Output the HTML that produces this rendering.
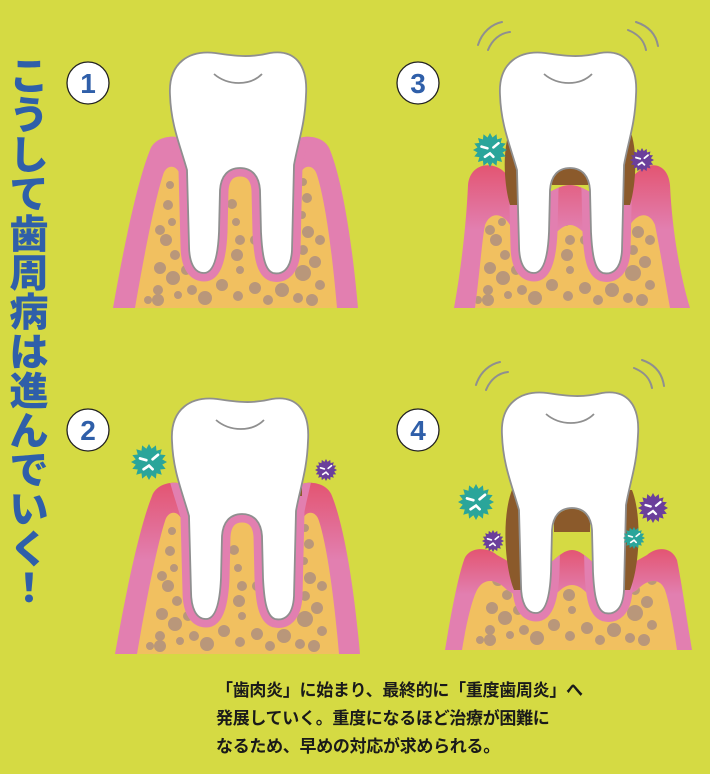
<!DOCTYPE html>
<html><head><meta charset="utf-8"><style>
html,body{margin:0;padding:0;background:#d5da43;}
#w{position:relative;width:710px;height:774px;overflow:hidden;background:#d5da43;}
svg{position:absolute;left:0;top:0}
.tt{position:absolute;left:6px;top:55px;width:46px;font:900 39px/39.4px "Noto Sans CJK JP",sans-serif;color:#2f5fa9;text-align:center;}
.tx{position:absolute;left:216px;top:677px;font:700 17px/28px "Liberation Sans","Noto Sans CJK JP",sans-serif;color:#1a1a1a;white-space:nowrap;letter-spacing:-0.3px}
</style></head><body><div id="w">
<svg width="710" height="774" viewBox="0 0 710 774">
<defs>
<path id="tooth" d="M170,95 C168,62 190,50 215,53 C235,56 250,58 270,53 C295,49 308,65 306,95 C305,125 298,142 294,165 L292,250 C291,270 282,275 273,273 C264,270 262,252 261,232 L260,190 C259,176 252,168 240,168 C228,168 221,176 220,190 L219,232 C218,255 214,273 204,273 C194,273 189,262 189,245 L187,170 C180,145 171,125 170,95 Z"/>
<path id="g1" d="M113,308 C125,240 138,180 150,150 C155,136 175,134 185,140 L295,140 C305,134 325,136 330,150 C342,180 352,240 358,308 Z"/>
<path id="b1" d="M135,308 C145,250 155,200 163,175 C166,164 177,164 180,175 L300,175 C303,164 314,164 317,175 C325,200 332,250 337,308 Z"/>
<path id="g3" d="M124,308 C130,275 136,230 138,185 C140,164 160,161 172,170 L200,195 C215,200 225,185 240,185 C255,185 265,200 280,195 L310,170 C322,161 338,164 340,185 C342,230 350,275 360,308 Z"/>
<path id="b3" d="M145,308 C150,270 152,240 155,225 C160,212 172,212 180,225 L200,250 C215,255 225,225 240,225 C255,225 265,255 280,250 L300,225 C308,212 320,212 325,225 C330,250 335,280 340,308 Z"/>
<path id="g4" d="M113,310 C118,280 125,240 132,220 C136,207 155,206 165,215 L195,232 C215,235 225,210 240,210 C255,210 265,235 285,232 L315,215 C325,206 340,207 345,220 C350,245 355,280 360,310 Z"/>
<path id="b4" d="M130,310 C135,280 140,260 145,250 C152,237 165,239 175,250 L200,265 C220,268 225,245 240,245 C255,245 260,268 280,265 L305,250 C315,239 328,237 333,250 C338,265 342,290 345,310 Z"/>
<clipPath id="cg1"><use href="#g1"/></clipPath>
<clipPath id="cg3"><use href="#g3"/></clipPath>
<clipPath id="cg4"><use href="#g4"/></clipPath>
<clipPath id="cb1"><use href="#b1"/></clipPath>
<clipPath id="cb3"><use href="#b3"/></clipPath>
<clipPath id="cb4"><use href="#b4"/></clipPath>
<linearGradient id="red" x1="0" y1="0" x2="0" y2="1"><stop offset="0" stop-color="#e35572"/><stop offset="0.45" stop-color="#e27fb0"/><stop offset="1" stop-color="#e27fb0"/></linearGradient>
<g id="dots" fill="#b9977a" stroke="#b9977a" stroke-width="2">
<circle cx="170" cy="185" r="3"/><circle cx="168" cy="205" r="4"/><circle cx="172" cy="222" r="3"/><circle cx="166" cy="240" r="5"/><circle cx="175" cy="255" r="4"/><circle cx="160" cy="268" r="5"/><circle cx="173" cy="278" r="6"/><circle cx="158" cy="290" r="4"/><circle cx="178" cy="295" r="3"/><circle cx="158" cy="300" r="5"/><circle cx="192" cy="290" r="4"/><circle cx="205" cy="298" r="6"/><circle cx="222" cy="285" r="5"/><circle cx="238" cy="296" r="4"/><circle cx="232" cy="204" r="4"/><circle cx="236" cy="222" r="3"/><circle cx="240" cy="240" r="4"/><circle cx="237" cy="255" r="5"/><circle cx="240" cy="270" r="3"/><circle cx="255" cy="288" r="5"/><circle cx="268" cy="300" r="4"/><circle cx="282" cy="290" r="6"/><circle cx="298" cy="298" r="4"/><circle cx="303" cy="182" r="3"/><circle cx="307" cy="198" r="4"/><circle cx="302" cy="215" r="3"/><circle cx="308" cy="232" r="5"/><circle cx="303" cy="250" r="4"/><circle cx="315" cy="262" r="5"/><circle cx="303" cy="273" r="7"/><circle cx="320" cy="285" r="4"/><circle cx="312" cy="300" r="5"/><circle cx="148" cy="300" r="3"/><circle cx="186" cy="270" r="4"/><circle cx="290" cy="270" r="3"/>
<circle cx="160" cy="230" r="4"/><circle cx="190" cy="240" r="3"/><circle cx="255" cy="240" r="4"/><circle cx="285" cy="250" r="3"/><circle cx="320" cy="240" r="4"/><circle cx="215" cy="262" r="4"/>
</g>
<polygon id="star" points="10,0 7.36,1.46 9.24,3.83 6.24,4.17 7.07,7.07 4.17,6.24 3.83,9.24 1.46,7.36 0,10 -1.46,7.36 -3.83,9.24 -4.17,6.24 -7.07,7.07 -6.24,4.17 -9.24,3.83 -7.36,1.46 -10,0 -7.36,-1.46 -9.24,-3.83 -6.24,-4.17 -7.07,-7.07 -4.17,-6.24 -3.83,-9.24 -1.46,-7.36 0,-10 1.46,-7.36 3.83,-9.24 4.17,-6.24 7.07,-7.07 6.24,-4.17 9.24,-3.83 7.36,-1.46"/>
<g id="bug"><use href="#star"/><path d="M-5,-2 L-1.5,-1 M5,-4 L2,-1.5 M-3,4 L0,2 L2,4" stroke="#fff" stroke-width="1.5" fill="none" stroke-linecap="round"/></g>
</defs>

<g font-family="Liberation Sans,sans-serif" font-weight="700" font-size="28" fill="#2f5fa9" text-anchor="middle">
<circle cx="88" cy="83" r="21" fill="#fff" stroke="#222" stroke-width="1.3"/><text x="88" y="93">1</text>
<circle cx="418" cy="83" r="21" fill="#fff" stroke="#222" stroke-width="1.3"/><text x="418" y="93">3</text>
<circle cx="88" cy="430" r="21" fill="#fff" stroke="#222" stroke-width="1.3"/><text x="88" y="440">2</text>
<circle cx="418" cy="430" r="21" fill="#fff" stroke="#222" stroke-width="1.3"/><text x="418" y="440">4</text>
</g>

<g>
<use href="#g1" fill="#e27fb0"/><use href="#b1" fill="#f1c060"/>
<g clip-path="url(#cb1)"><use href="#dots"/></g>
<g clip-path="url(#cg1)"><use href="#tooth" fill="none" stroke="#e27fb0" stroke-width="17"/></g>
<use href="#tooth" fill="#fff" stroke="#8f8f8f" stroke-width="1.8"/>
<path d="M214,74 C228,86 250,86 262,74" fill="none" stroke="#8f8f8f" stroke-width="1.8"/>
</g>

<g transform="translate(2,346)">
<use href="#g1" fill="url(#red)"/><use href="#b1" fill="#f1c060"/>
<g clip-path="url(#cb1)"><use href="#dots"/></g>
<g clip-path="url(#cg1)"><use href="#tooth" fill="none" stroke="#e27fb0" stroke-width="17"/></g>
<path d="M178,128 L186,150 L180,150 Z M300,128 L294,150 L300,150 Z" fill="#8b5a2b"/>
<use href="#tooth" fill="#fff" stroke="#8f8f8f" stroke-width="1.8"/>
<path d="M214,74 C228,86 250,86 262,74" fill="none" stroke="#8f8f8f" stroke-width="1.8"/>
</g>
<use href="#bug" fill="#2aa59a" transform="translate(149,462) scale(1.8)"/>
<use href="#bug" fill="#6b3f9b" transform="translate(326,470) scale(1.1)"/>

<g transform="translate(330,0)">
<use href="#g3" fill="url(#red)"/><use href="#b3" fill="#f1c060"/>
<g clip-path="url(#cb3)"><use href="#dots"/></g>
<g clip-path="url(#cg3)"><use href="#tooth" fill="none" stroke="#e27fb0" stroke-width="17"/></g>
<path d="M180,130 C172,150 174,185 180,205 L190,205 L188,130 Z M300,130 C308,150 306,185 300,205 L290,205 L292,130 Z M222,175 C230,162 250,162 258,175 L258,185 L222,185 Z" fill="#8b5a2b"/>
<use href="#tooth" fill="#fff" stroke="#8f8f8f" stroke-width="1.8"/>
<path d="M214,74 C228,86 250,86 262,74" fill="none" stroke="#8f8f8f" stroke-width="1.8"/>
<path d="M148,45 C152,32 162,24 172,22 M158,50 C162,40 170,33 180,32 M306,22 C318,26 326,34 328,46 M298,30 C308,34 314,40 316,50" fill="none" stroke="#8f8f8f" stroke-width="2" stroke-linecap="round"/>
</g>
<use href="#bug" fill="#2aa59a" transform="translate(490,150) scale(1.7)"/>
<use href="#bug" fill="#6b3f9b" transform="translate(642,160) scale(1.2)"/>

<g transform="translate(332,340)">
<use href="#g4" fill="url(#red)"/><use href="#b4" fill="#f1c060"/>
<g clip-path="url(#cb4)"><use href="#dots"/></g>
<g clip-path="url(#cg4)"><use href="#tooth" fill="none" stroke="#e27fb0" stroke-width="17"/></g>
<path d="M180,150 C170,175 172,225 182,250 L192,250 L188,150 Z M300,150 C310,175 308,225 298,250 L290,250 L292,150 Z M222,180 C230,165 250,165 258,180 L258,192 L222,192 Z" fill="#8b5a2b"/>
<use href="#tooth" fill="#fff" stroke="#8f8f8f" stroke-width="1.8"/>
<path d="M214,74 C228,86 250,86 262,74" fill="none" stroke="#8f8f8f" stroke-width="1.8"/>
<path d="M144,45 C148,32 158,24 168,22 M154,50 C158,40 166,33 176,32 M310,20 C322,24 330,32 332,46 M302,28 C312,32 318,38 320,48" fill="none" stroke="#8f8f8f" stroke-width="2" stroke-linecap="round"/>
</g>
<use href="#bug" fill="#2aa59a" transform="translate(476,502) scale(1.8)"/>
<use href="#bug" fill="#6b3f9b" transform="translate(493,541) scale(1.1)"/>
<use href="#bug" fill="#6b3f9b" transform="translate(653,508) scale(1.5)"/>
<use href="#bug" fill="#2aa59a" transform="translate(634,538) scale(1.1)"/>
</svg>
<div class="tt">こ<br>う<br>し<br>て<br>歯<br>周<br>病<br>は<br>進<br>ん<br>で<br>い<br>く<br>！</div>
<div class="tx">「歯肉炎」に始まり、最終的に「重度歯周炎」へ<br>発展していく。重度になるほど治療が困難に<br>なるため、早めの対応が求められる。</div>
</div></body></html>
